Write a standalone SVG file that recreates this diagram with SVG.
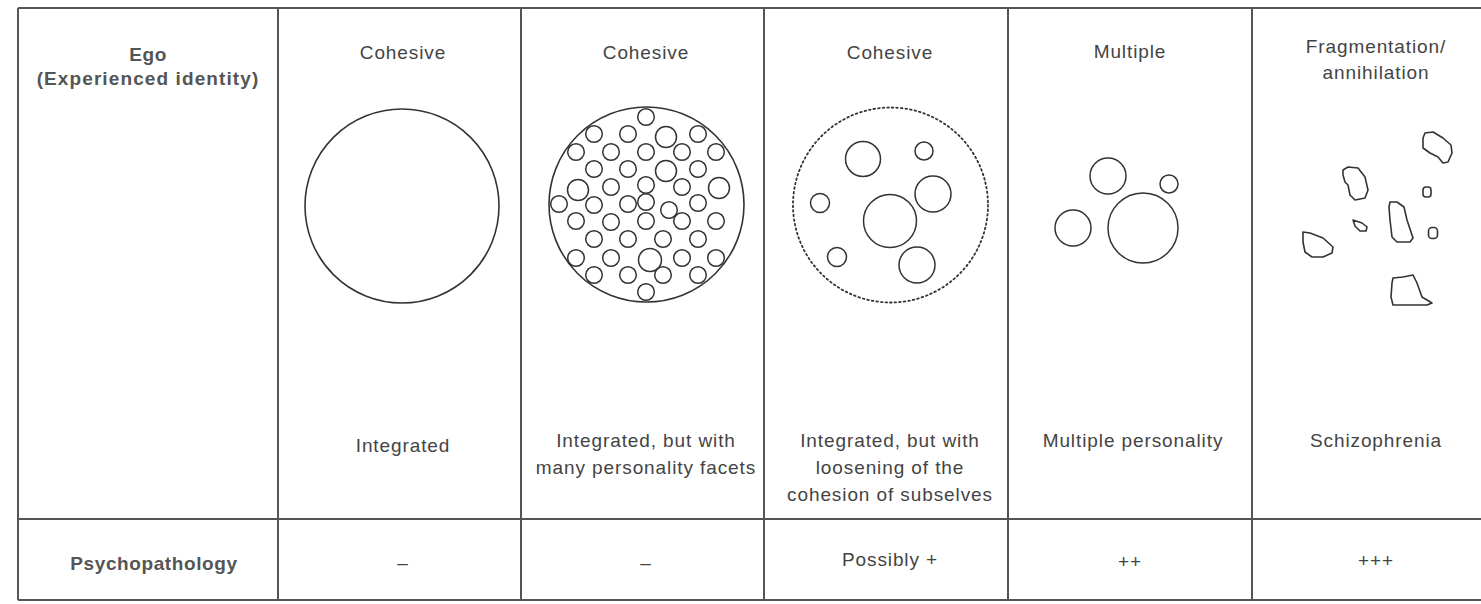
<svg xmlns="http://www.w3.org/2000/svg" width="1481" height="604" viewBox="0 0 1481 604">
<style>
.t{font-family:"Liberation Sans",Arial,sans-serif;font-size:19px;fill:#444;text-anchor:middle;letter-spacing:0.9px}
.b{font-family:"Liberation Sans",Arial,sans-serif;font-size:19px;font-weight:bold;fill:#555;text-anchor:middle;letter-spacing:0.6px}
.g{stroke:#555;stroke-width:2;fill:none}
.c{stroke:#333;stroke-width:1.6;fill:none}
.s{stroke:#333;stroke-width:1.5;fill:none}
.f{stroke:#333;stroke-width:1.6;fill:none;stroke-linejoin:round}
</style>
<rect width="1481" height="604" fill="#fff"/>
<g id="grid" class="g">
<line x1="18" y1="8" x2="1481" y2="8"/>
<line x1="18" y1="519" x2="1481" y2="519"/>
<line x1="18" y1="600" x2="1481" y2="600"/>
<line x1="18" y1="8" x2="18" y2="600"/>
<line x1="278" y1="8" x2="278" y2="600"/>
<line x1="521" y1="8" x2="521" y2="600"/>
<line x1="764" y1="8" x2="764" y2="600"/>
<line x1="1008" y1="8" x2="1008" y2="600"/>
<line x1="1252" y1="8" x2="1252" y2="600"/>
</g>
<g id="row-labels">
<text class="b" x="148" y="61">Ego</text>
<text class="b" x="148" y="85" style="letter-spacing:1.1px">(Experienced identity)</text>
<text class="b" x="154" y="570">Psychopathology</text>
</g>
<g id="col1">
<text class="t" x="403" y="59">Cohesive</text>
<circle class="c" cx="402" cy="206" r="97"/>
<text class="t" x="403" y="452">Integrated</text>
<text class="t" x="403" y="569">–</text>
</g>
<g id="col2">
<text class="t" x="646" y="59">Cohesive</text>
<circle class="c" cx="646.5" cy="204.5" r="97.5"/>
<g class="s">
<circle cx="646" cy="117" r="8.3"/><circle cx="594" cy="134" r="8.3"/><circle cx="628" cy="134" r="8.3"/><circle cx="666" cy="137" r="10.5"/><circle cx="698" cy="134" r="8.3"/>
<circle cx="576" cy="152" r="8.3"/><circle cx="611" cy="152" r="8.3"/><circle cx="646" cy="152" r="8.3"/><circle cx="682" cy="152" r="8.3"/><circle cx="716" cy="152" r="8.3"/>
<circle cx="594" cy="169" r="8.3"/><circle cx="628" cy="169" r="8.3"/><circle cx="666" cy="171" r="10.5"/><circle cx="698" cy="169" r="8.3"/>
<circle cx="578" cy="190" r="10.5"/><circle cx="611" cy="187" r="8.3"/><circle cx="646" cy="185" r="8.3"/><circle cx="682" cy="187" r="8.3"/><circle cx="719" cy="188" r="10.5"/>
<circle cx="559" cy="204" r="8.3"/><circle cx="594" cy="205" r="8.3"/><circle cx="628" cy="204" r="8.3"/><circle cx="646" cy="202" r="8.3"/><circle cx="669" cy="210" r="8.3"/><circle cx="698" cy="203" r="8.3"/>
<circle cx="576" cy="221" r="8.3"/><circle cx="611" cy="222" r="8.3"/><circle cx="646" cy="221" r="8.3"/><circle cx="682" cy="221" r="8.3"/><circle cx="716" cy="221" r="8.3"/>
<circle cx="594" cy="239" r="8.3"/><circle cx="628" cy="239" r="8.3"/><circle cx="663" cy="239" r="8.3"/><circle cx="698" cy="239" r="8.3"/>
<circle cx="576" cy="258" r="8.3"/><circle cx="611" cy="258" r="8.3"/><circle cx="650" cy="260" r="11.5"/><circle cx="682" cy="258" r="8.3"/><circle cx="716" cy="258" r="8.3"/>
<circle cx="594" cy="275" r="8.3"/><circle cx="628" cy="275" r="8.3"/><circle cx="663" cy="275" r="8.3"/><circle cx="698" cy="275" r="8.3"/>
<circle cx="646" cy="292" r="8.3"/>
</g>
<text class="t" x="646" y="447">Integrated, but with</text>
<text class="t" x="646" y="474">many personality facets</text>
<text class="t" x="646" y="569">–</text>
</g>
<g id="col3">
<text class="t" x="890" y="59">Cohesive</text>
<circle cx="890.5" cy="205" r="97.5" fill="none" stroke="#333" stroke-width="1.8" stroke-dasharray="1.6 3" stroke-linecap="round"/>
<g class="s">
<circle cx="863" cy="159" r="17.5"/>
<circle cx="924" cy="151" r="9"/>
<circle cx="933" cy="194" r="18"/>
<circle cx="820" cy="203" r="9.5"/>
<circle cx="890" cy="221" r="26.5"/>
<circle cx="837" cy="257" r="9.5"/>
<circle cx="917" cy="265" r="18"/>
</g>
<text class="t" x="890" y="447">Integrated, but with</text>
<text class="t" x="890" y="474">loosening of the</text>
<text class="t" x="890" y="501">cohesion of subselves</text>
<text class="t" x="890" y="566">Possibly +</text>
</g>
<g id="col4">
<text class="t" x="1130" y="58">Multiple</text>
<g class="s">
<circle cx="1108" cy="176" r="18"/>
<circle cx="1169" cy="184" r="9"/>
<circle cx="1073" cy="228" r="18"/>
<circle cx="1143" cy="228" r="35"/>
</g>
<text class="t" x="1133" y="447">Multiple personality</text>
<text class="t" x="1130" y="568">++</text>
</g>
<g id="col5">
<text class="t" x="1376" y="53">Fragmentation/</text>
<text class="t" x="1376" y="79">annihilation</text>
<g class="f">
<path d="M1425,133 L1433,132 L1443,138 L1451,145 L1452,153 L1448,162 L1443,163 L1438,157 L1430,153 L1423,148 L1423,138 Z"/>
<path d="M1343,170 L1348,167 L1358,168 L1365,177 L1368,190 L1365,198 L1355,200 L1350,195 L1348,185 L1345,182 L1343,175 Z"/>
<rect x="1423" y="187" width="8" height="10" rx="3"/>
<path d="M1353,220 L1362,223 L1367,227 L1366,231 L1360,231 L1355,226 Z"/>
<path d="M1390,202 L1397,202 L1404,207 L1407,220 L1413,238 L1410,242 L1397,242 L1392,237 L1390,220 L1389,207 Z"/>
<rect x="1428.5" y="227.5" width="9" height="11" rx="3.5"/>
<path d="M1303,232 L1310,233 L1323,238 L1333,247 L1332,253 L1323,257 L1312,257 L1305,252 L1303,242 Z"/>
<path d="M1393,278 L1403,277 L1413,275 L1417,283 L1422,297 L1432,303 L1427,305 L1393,305 L1391,297 L1392,283 Z"/>
</g>
<text class="t" x="1376" y="447">Schizophrenia</text>
<text class="t" x="1376" y="567">+++</text>
</g>
</svg>
